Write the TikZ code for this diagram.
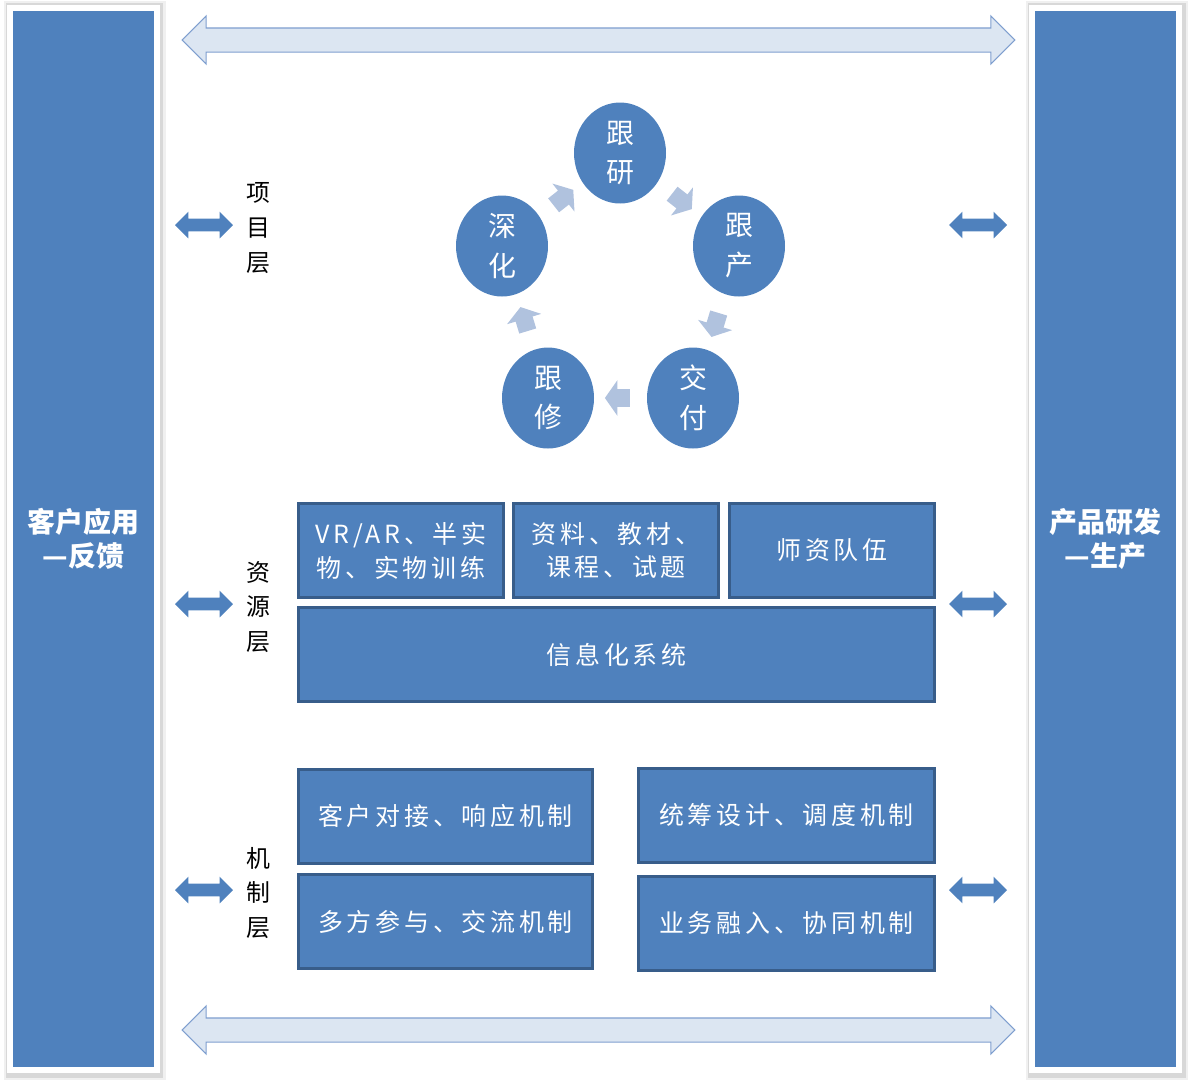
\documentclass[tikz,border=0pt]{standalone}
\usepackage{fontspec}
\setmainfont{Noto Sans CJK SC}
\newfontfamily\boxfont[LetterSpace=15]{Noto Sans CJK SC}
\usetikzlibrary{shapes.geometric,shapes.arrows,backgrounds}
\definecolor{BarBlue}{HTML}{4F81BD}
\definecolor{EdgeBlue}{HTML}{385D8A}
\definecolor{PaleBlue}{HTML}{DCE6F2}
\definecolor{PaleEdge}{HTML}{7F9FCF}
\definecolor{CycleBlue}{HTML}{B0C2DE}

\begin{document}
\begin{tikzpicture}[x=0.02cm, y=-0.02cm,
  sidebar/.style={rectangle, draw=white, line width=3.4pt, fill=BarBlue, inner sep=0pt,
    minimum width=2.94cm, minimum height=21.26cm, text=white, align=center,
    font=\bfseries\fontsize{15.9}{19.3}\selectfont},
  bigarrow/.style={double arrow, draw=PaleEdge, fill=PaleBlue, line width=0.6pt, inner xsep=0pt,
    inner ysep=0.23cm, minimum height=16.66cm, double arrow head extend=0.24cm},
  linkarrow/.style={double arrow, fill=BarBlue, inner xsep=0pt, inner ysep=0.12cm,
    minimum height=1.16cm, double arrow head extend=0.14cm},
  cyclearrow/.style={single arrow, fill=CycleBlue, inner xsep=0pt, inner ysep=0.17cm, sloped, allow upside down,
    minimum height=0.5cm, single arrow head extend=0.18cm, single arrow tip angle=110},
  stage/.style={ellipse, fill=BarBlue, inner sep=0pt, minimum width=1.84cm, minimum height=2.02cm,
    text=white, align=center, font=\fontsize{15.9}{22.7}\selectfont},
  layer/.style={align=center, inner sep=0pt, font=\fontsize{13.6}{19.8}\selectfont},
  block/.style={rectangle, draw=EdgeBlue, line width=1.7pt, fill=BarBlue, inner sep=0pt,
    minimum height=1.88cm, text=white, align=center, font=\boxfont\fontsize{14.2}{19.3}\selectfont}]
\useasboundingbox (0,0) rectangle (1189,1083);

% --- side bars ---
\node[sidebar] (client) at (83.5,539) {客户应用\\—反馈};
\node[sidebar] (product) at (1105.5,539) {产品研发\\—生产};
\begin{scope}[on background layer]
  \foreach \bar in {client,product} {
    \fill[black, opacity=0.06] ([shift={(-2pt,2pt)}]\bar.north west) rectangle ([shift={(3.5pt,-4pt)}]\bar.south east);
    \fill[black, opacity=0.10] ([shift={(-0.8pt,0.8pt)}]\bar.north west) rectangle ([shift={(2pt,-2.5pt)}]\bar.south east);
  }
\end{scope}

% --- long arrows top and bottom ---
\node[bigarrow] (toparrow) at (598.5,40) {};
\node[bigarrow] (botarrow) at (598.5,1030) {};

% --- short arrows beside the layers ---
\foreach \n/\y in {proj/225,res/604,mech/890} {
  \node[linkarrow] (l-\n) at (204,\y) {};
  \node[linkarrow] (r-\n) at (978,\y) {};
}

% --- layer labels ---
\node[layer] (projlayer) at (258,228) {项\\目\\层};
\node[layer] (reslayer) at (258,607) {资\\源\\层};
\node[layer] (mechlayer) at (258,893) {机\\制\\层};

% --- project cycle ---
\node[stage] (yan) at (620,153) {跟\\研};
\node[stage] (chan) at (739,246) {跟\\产};
\node[stage] (fu) at (693,398) {交\\付};
\node[stage] (xiu) at (548,398) {跟\\修};
\node[stage] (hua) at (502,246) {深\\化};
\foreach \a/\b in {yan/chan,chan/fu,fu/xiu,xiu/hua,hua/yan}
  \path (\a) -- node[cyclearrow, midway] {} (\b);

% --- resource layer ---
\node[block, minimum width=4.1cm] (vrar) at (401,550.5) {VR/AR、半实\\物、实物训练};
\node[block, minimum width=4.1cm] (jiaocai) at (616,550.5) {资料、教材、\\课程、试题};
\node[block, minimum width=4.1cm] (shizi) at (832,550.5) {师资队伍};
\node[block, minimum width=12.72cm] (xinxi) at (616.5,654.5) {信息化系统};

% --- mechanism layer ---
\node[block, minimum width=5.88cm] (duijie) at (445.5,816) {客户对接、响应机制};
\node[block, minimum width=5.88cm] (canyu) at (445.5,921.5) {多方参与、交流机制};
\node[block, minimum width=5.92cm] (tongchou) at (786.5,815) {统筹设计、调度机制};
\node[block, minimum width=5.92cm] (rongru) at (786.5,923.5) {业务融入、协同机制};
\end{tikzpicture}
\end{document}
